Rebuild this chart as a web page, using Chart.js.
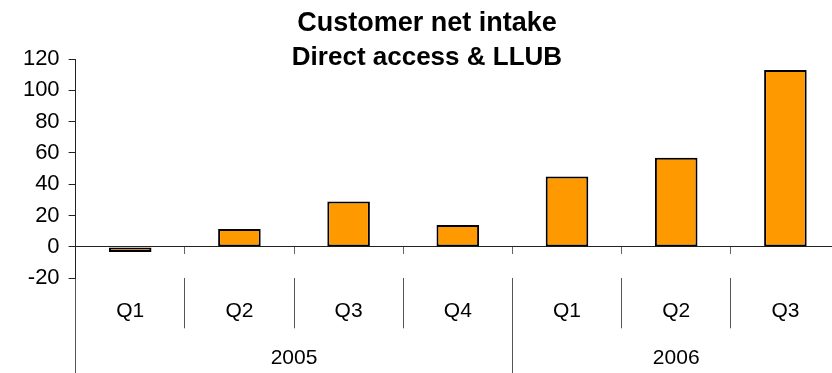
<!DOCTYPE html>
<html>
<head>
<meta charset="utf-8">
<script src="https://cdn.jsdelivr.net/npm/chart.js@4.4.1/dist/chart.umd.min.js"></script>
<style>
  html, body { margin: 0; padding: 0; background: #fff; overflow: hidden; }
  canvas { display: block; }
</style>
</head>
<body>
<canvas id="chart" width="850" height="373"></canvas>
<script>
// quarterly net intake, thousands of customers
const quarters = ['Q1', 'Q2', 'Q3', 'Q4', 'Q1', 'Q2', 'Q3']
const netIntake = [-3.2, 11.5, 29, 14, 45, 57, 113]
const years = ['2005', '2006']
const quartersPerYear = [4, 3]
const yTicks = { min: -20, max: 120, step: 20 }

const FONT = 'Liberation Sans, Arial, Helvetica, sans-serif'
const AXIS = '#222'
const SEP = '#555'
const NONE = 'rgba(0,0,0,0)'

// year row works in half-quarter slots: year name in the middle slot of its span,
// separators on the span edges
const yearSlots = []
const yearEdgeSlots = [0]
quartersPerYear.forEach((n, i) => {
    const start = yearEdgeSlots[yearEdgeSlots.length - 1]
    for (let k = 0; k < n * 2; k++) yearSlots.push(k === n ? years[i] : '')
    yearEdgeSlots.push(start + n * 2)
})
yearSlots.push('')

// helper axes that only draw separator lines and take (almost) no room
function separatorAxis(labels, weight, length, extra) {
    return Object.assign({
        type: 'category',
        labels: labels,
        position: 'bottom',
        weight: weight,
        ticks: {
            color: NONE,
            maxRotation: 0,
            autoSkip: false,
            font: { family: FONT, size: 21 },
            padding: -(length + 25.2 - 0.2) / 2
        },
        border: { display: false }
    }, extra)
}

document.addEventListener('DOMContentLoaded', function () {
    const ctx = document.getElementById('chart').getContext('2d')

    new Chart(ctx, {
        type: 'bar',
        data: {
            labels: quarters,
            datasets: [{
                data: netIntake,
                xAxisID: 'x',
                yAxisID: 'y',
                backgroundColor: '#ff9900',
                borderColor: '#000',
                borderWidth: 2,
                borderSkipped: false,
                barPercentage: 0.39,
                categoryPercentage: 1
            }]
        },
        options: {
            responsive: false,
            animation: false,
            layout: { padding: { left: 13.9, right: 10, top: 0, bottom: 1.3 } },
            plugins: {
                legend: { display: false },
                tooltip: { enabled: false },
                title: {
                    display: true,
                    text: 'Customer net intake',
                    color: '#000',
                    font: { family: FONT, size: 27, weight: 'bold', lineHeight: 30 / 27 },
                    padding: { top: 8.5, bottom: 4 }
                },
                subtitle: {
                    display: true,
                    text: 'Direct access & LLUB',
                    color: '#000',
                    font: { family: FONT, size: 26, weight: 'bold', lineHeight: 30 / 26 },
                    padding: { top: 0, bottom: -13.5 }
                }
            },
            scales: {
                y: {
                    min: yTicks.min,
                    max: yTicks.max,
                    ticks: {
                        stepSize: yTicks.step,
                        color: '#000',
                        padding: 9,
                        font: { family: FONT, size: 22 }
                    },
                    grid: { drawOnChartArea: false, tickLength: 7, color: AXIS },
                    border: { display: true, color: AXIS, width: 1 }
                },
                // category axis sitting on the zero line
                x: {
                    position: { y: 0 },
                    offset: true,
                    ticks: { display: false },
                    grid: { offset: true, drawOnChartArea: false, tickLength: 7, color: '#666' },
                    border: { display: true, color: AXIS, width: 1 }
                },
                // separators between quarters
                sepQ: separatorAxis(quarters, 1, 50, {
                    offset: true,
                    grid: { offset: true, drawOnChartArea: false, tickLength: 50, color: SEP }
                }),
                // separators between years, down to the bottom edge
                sepY: separatorAxis(yearSlots, 2, 95, {
                    offset: false,
                    grid: {
                        offset: false,
                        drawOnChartArea: false,
                        tickLength: 95,
                        color: c => yearEdgeSlots.includes(c.index) ? SEP : NONE
                    }
                }),
                // quarter labels
                xq: {
                    type: 'category',
                    labels: quarters,
                    position: 'bottom',
                    weight: 3,
                    offset: true,
                    ticks: {
                        color: '#000',
                        padding: 20.4,
                        maxRotation: 0,
                        autoSkip: false,
                        font: { family: FONT, size: 21 }
                    },
                    grid: { display: false, drawTicks: false },
                    border: { display: false }
                },
                // year labels centred on their quarters
                xy: {
                    type: 'category',
                    labels: yearSlots,
                    position: 'bottom',
                    weight: 4,
                    offset: false,
                    ticks: {
                        color: '#000',
                        padding: 0.9,
                        maxRotation: 0,
                        autoSkip: false,
                        font: { family: FONT, size: 21 }
                    },
                    grid: { display: false, drawTicks: false },
                    border: { display: false }
                }
            }
        }
    })
})
</script>
</body>
</html>
